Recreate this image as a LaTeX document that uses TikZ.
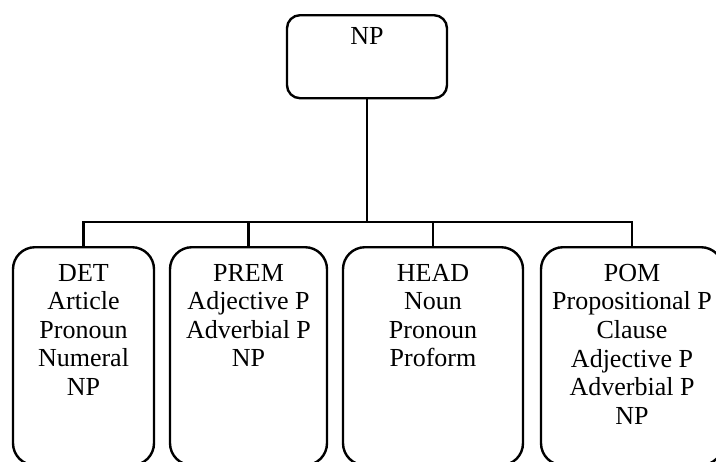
\documentclass[tikz,border=0pt]{standalone}
\usepackage{fontspec}
\setmainfont{Liberation Serif}
\usetikzlibrary{positioning}
\newcommand{\boxbody}[3]{\parbox[t][#1][t]{#2}{\centering #3}}
\tikzset{
  tbox/.style={
    draw=black, line width=1.2pt, inner xsep=0pt,
    font=\fontsize{13}{14.3}\selectfont, anchor=north
  },
  root/.style={tbox, rounded corners=6.5pt, inner ysep=5.9pt},
  part/.style={tbox, rounded corners=11pt, inner ysep=8.4pt},
  link/.style={draw=black, line width=1.2pt}
}

\begin{document}
\begin{tikzpicture}[x=0.5pt, y=-0.5pt]
  \useasboundingbox (0,0) rectangle (716,461);
  \node[root] (np) at (367,14) {\boxbody{29.7pt}{80pt}{NP}};
  \node[part] (det) at (83.5,246) {\boxbody{92.2pt}{70.5pt}{DET\\Article\\Pronoun\\Numeral\\NP}};
  \node[part] (prem) at (248.5,246) {\boxbody{92.2pt}{78.5pt}{PREM\\Adjective P\\Adverbial P\\NP}};
  \node[part] (head) at (433,246) {\boxbody{92.2pt}{90pt}{HEAD\\Noun\\Pronoun\\Proform}};
  \node[part] (pom) at (632,246) {\boxbody{92.2pt}{91pt}{POM\\Propositional P\\Clause\\Adjective P\\Adverbial P\\NP}};
  \coordinate (bus) at (367,222);
  \draw[link] (np) -- (bus);
  \foreach \c in {det,prem,head,pom} \draw[link] (bus) -| (\c.north);
\end{tikzpicture}
\end{document}
